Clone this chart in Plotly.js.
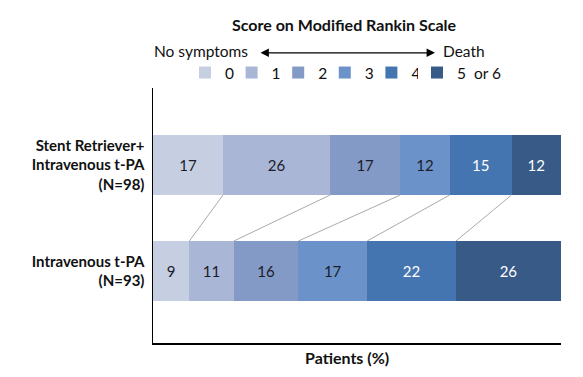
<!DOCTYPE html>
<html>
<head>
<meta charset="utf-8">
<script src="https://cdn.plot.ly/plotly-3.0.1.min.js"></script>
<style>html,body{margin:0;padding:0;background:#fff;}#chart{width:583px;height:377px;}</style>
</head>
<body>
<div id="chart"></div>
<script>
// Data
const groups = ["Stent Retriever+<br>Intravenous t-PA<br>(N=98)", "Intravenous t-PA<br>(N=93)"];
const scores = ["0", "1", "2", "3", "4", "5  or 6"];
const stentValues = [17, 26, 17, 12, 15, 12];
const ivValues = [9, 11, 16, 17, 22, 26];
const colors = ["#c6cee2", "#a9b6d5", "#839ac6", "#6b93c9", "#4575b0", "#375a86"];
const labelColors = ["#1b1b2b", "#1b1b2b", "#1b1b2b", "#1b1b2b", "#ffffff", "#ffffff"];

const FONT = "Lato, 'Open Sans', sans-serif";
const yPos = [1, 0];
const barW = 0.566;

const sum = a => a.reduce((s, v) => s + v, 0);
const stentTotal = sum(stentValues), ivTotal = sum(ivValues);

const traces = scores.map((s, i) => ({
  type: "bar",
  orientation: "h",
  name: s,
  legend: i === scores.length - 1 ? "legend2" : "legend",
  y: yPos,
  x: [stentValues[i] / stentTotal * 100, ivValues[i] / ivTotal * 100],
  text: [String(stentValues[i]), String(ivValues[i])],
  textposition: "inside",
  insidetextanchor: "middle",
  textangle: 0,
  textfont: {family: FONT, size: 15, color: labelColors[i]},
  marker: {color: colors[i], line: {width: 0}},
  width: barW,
  hoverinfo: "skip"
}));

// connector lines between cumulative boundaries
const shapes = [];
let cs = 0, ci = 0;
for (let i = 0; i < scores.length - 1; i++) {
  cs += stentValues[i] / stentTotal * 100;
  ci += ivValues[i] / ivTotal * 100;
  shapes.push({type: "line", xref: "x", yref: "y", x0: cs, y0: 1 - barW / 2, x1: ci, y1: 0 + barW / 2,
    line: {color: "#aaaaaa", width: 1}});
}

const annotations = [
  {xref: "paper", yref: "paper", x: 0.47, y: 1.249, text: "<b>Score on Modified Rankin Scale</b>", showarrow: false,
   font: {family: FONT, size: 16, color: "#111"}, xanchor: "center", yanchor: "middle"},
  {xref: "paper", yref: "paper", x: (250 - 153) / 408, y: 1.146, text: "No symptoms", showarrow: false,
   font: {family: FONT, size: 15.5, color: "#111"}, xanchor: "right", yanchor: "middle"},
  {xref: "paper", yref: "paper", x: (441 - 153) / 408, y: 1.146, text: "Death", showarrow: false,
   font: {family: FONT, size: 15.5, color: "#111"}, xanchor: "left", yanchor: "middle"},
  {xref: "paper", yref: "paper", x: (435 - 153) / 408, y: 1.138, ax: -176, ay: 0, axref: "pixel", ayref: "pixel",
   text: "", showarrow: true, arrowside: "end+start", arrowhead: 2, arrowsize: 1.4, arrowwidth: 1.2, arrowcolor: "#000"},
  {xref: "paper", yref: "paper", x: 0.475, y: -0.055, text: "<b>Patients (%)</b>", showarrow: false,
   font: {family: FONT, size: 16, color: "#111"}, xanchor: "center", yanchor: "middle"}
];

const legendCommon = {orientation: "h", xanchor: "left", y: 1.059, yanchor: "middle", traceorder: "normal",
  font: {family: FONT, size: 15.5, color: "#111"}, itemclick: false, bgcolor: "rgba(0,0,0,0)"};

const layout = {
  width: 583, height: 377,
  margin: {l: 153, r: 22, t: 88, b: 34},
  paper_bgcolor: "#fff", plot_bgcolor: "#fff",
  barmode: "stack",
  bargap: 0,
  showlegend: true,
  legend: Object.assign({}, legendCommon, {x: (185 - 153) / 408, entrywidth: 1.6, entrywidthmode: "pixels"}),
  legend2: Object.assign({}, legendCommon, {x: (417 - 153) / 408}),
  xaxis: {range: [0, 100], showgrid: false, zeroline: false, showticklabels: false, ticks: "",
    showline: true, linecolor: "#000", linewidth: 1.5, fixedrange: true},
  yaxis: {range: [-0.679, 1.726], tickvals: yPos, ticktext: groups, showgrid: false, zeroline: false,
    ticks: "", showline: true, linecolor: "#000", linewidth: 1.5, ticklabelstandoff: 4,
    tickfont: {family: FONT, size: 15, color: "#111", weight: "bold"}, fixedrange: true},
  shapes: shapes,
  annotations: annotations,
  font: {family: FONT}
};

Plotly.newPlot("chart", traces, layout, {displayModeBar: false, staticPlot: true});
</script>
</body>
</html>
